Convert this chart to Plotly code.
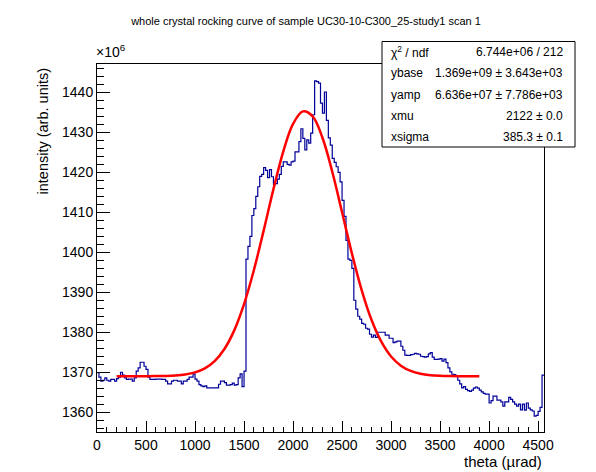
import numpy as np
import plotly.graph_objects as go

# histogram: 228 bins of 20 urad, 0 .. 4560 (intensity in units of 1e6)
bin_width = 20
counts = [
    1369.9, 1368.8, 1367.8, 1368.0, 1368.6, 1368.0, 1367.8, 1368.2, 1368.2, 1367.8,
    1368.4, 1368.8, 1370.0, 1369.3, 1368.6, 1368.2, 1368.3, 1368.3, 1367.8, 1368.6,
    1370.3, 1371.1, 1372.5, 1372.5, 1371.5,
    1370.7, 1368.8, 1368.2, 1368.2, 1368.2, 1368.3, 1368.3, 1368.3, 1368.2, 1368.2,
    1367.8, 1367.1, 1367.1, 1367.8, 1368.0, 1368.0, 1367.8, 1367.8, 1367.1, 1367.8,
    1367.8, 1368.2, 1368.8, 1368.8, 1369.6,
    1368.3, 1367.8, 1366.9, 1366.6, 1366.4, 1366.6, 1366.1, 1366.1, 1366.1, 1366.1,
    1366.1, 1366.1, 1367.0, 1367.8, 1367.8, 1367.4, 1366.8, 1366.8, 1366.9, 1367.3,
    1366.8, 1366.9, 1368.6, 1369.6, 1366.4,
    1370.3, 1398.3, 1401.5, 1404.0, 1409.2, 1410.9, 1414.0, 1416.4, 1419.0, 1419.5,
    1421.2, 1420.5, 1418.7, 1420.7, 1418.9, 1416.9, 1417.2, 1418.3, 1419.5, 1421.5,
    1422.6, 1422.6, 1422.0, 1421.8, 1422.6,
    1422.8, 1425.1, 1425.1, 1427.7, 1430.9, 1428.5, 1425.6, 1428.1, 1427.3, 1429.8,
    1434.4, 1442.9, 1442.7, 1442.3, 1437.3, 1434.8, 1440.1, 1433.0, 1428.6, 1426.8,
    1423.5, 1422.5, 1421.4, 1420.0, 1417.6,
    1413.0, 1409.0, 1403.0, 1398.3, 1398.0, 1396.0, 1388.0, 1385.8, 1384.0, 1383.3,
    1382.2, 1382.0, 1381.0, 1380.8, 1379.5, 1378.8, 1379.3, 1378.7, 1380.0, 1380.0,
    1380.0, 1380.0, 1379.3, 1379.3, 1378.5,
    1378.5, 1377.4, 1377.6, 1377.8, 1377.8, 1376.5, 1375.5, 1374.3, 1374.2, 1374.2,
    1374.4, 1374.5, 1374.7, 1374.6, 1374.5, 1374.0, 1373.9, 1373.8, 1373.9, 1374.6,
    1374.9, 1373.8, 1373.2, 1373.2, 1373.3,
    1373.4, 1372.8, 1373.3, 1372.4, 1371.1, 1370.1, 1369.5, 1369.4, 1369.0, 1368.0,
    1367.1, 1366.1, 1366.4, 1365.7, 1365.4, 1365.2, 1365.5, 1366.0, 1366.3, 1366.0,
    1365.5, 1365.1, 1364.7, 1364.5, 1364.5,
    1362.3, 1362.9, 1364.0, 1364.0, 1363.0, 1363.0, 1362.6, 1361.5, 1362.6, 1362.6,
    1363.7, 1363.2, 1362.6, 1362.0, 1361.5, 1362.0, 1360.6, 1362.0, 1360.5, 1362.3,
    1361.0, 1360.6, 1360.3, 1359.0, 1359.2, 1360.2, 1361.2, 1369.3,
]

# fitted gaussian as drawn
fit_theta = [200, 300, 400, 500, 600, 700, 800, 900, 1000, 1100, 1200, 1300,
             1400, 1500, 1600, 1700, 1800, 1900, 2000, 2100, 2200, 2300, 2400,
             2500, 2600, 2700, 2800, 2900, 3000, 3100, 3200, 3300, 3400, 3500,
             3600, 3700, 3800, 3900]
fit_vals = [1369.00, 1369.00, 1369.00, 1369.01, 1369.03, 1369.07, 1369.18,
            1369.44, 1369.96, 1370.97, 1372.79, 1375.82, 1380.47, 1387.03,
            1395.50, 1405.43, 1415.80, 1425.21, 1432.11, 1435.25, 1434.01,
            1428.64, 1420.15, 1410.01, 1399.74, 1390.54, 1383.11, 1377.64,
            1373.94, 1371.65, 1370.32, 1369.62, 1369.27, 1369.11, 1369.04,
            1369.01, 1369.00, 1369.00]

stat_names = ["χ<sup>2</sup> / ndf", "ybase", "yamp", "xmu", "xsigma"]
stat_values = ["6.744e+06 / 212", "1.369e+09 ± 3.643e+03",
               "6.636e+07 ± 7.786e+03", "2122 ± 0.0", "385.3 ± 0.1"]

title = "whole crystal rocking curve of sample UC30-10-C300_25-study1 scan 1"

W, H = 596, 472
L, R, T, B = 89, 60, 56, 48
FONT = "Liberation Sans, Arial, Helvetica, sans-serif"


def px_x(p):
    return (p - L) / (W - L - R)


def px_y(p):
    return (H - B - p) / (H - T - B)


edges = np.arange(len(counts) + 1) * bin_width
step_y = counts + [counts[-1]]

fig = go.Figure()
fig.add_trace(go.Scatter(x=edges, y=step_y, mode='lines', line_shape='hv',
                         line=dict(color='#000099', width=1.2), hoverinfo='skip'))
fig.add_trace(go.Scatter(x=fit_theta, y=fit_vals, mode='lines', line_shape='spline',
                         line=dict(color='#ff0000', width=2.5), hoverinfo='skip'))

# stats box
fig.add_shape(type='rect', xref='paper', yref='paper',
              x0=px_x(374), x1=px_x(567), y0=px_y(139), y1=px_y(33.5),
              line=dict(color='black', width=1), fillcolor='white', layer='above')
row_y = [44, 65.5, 87, 108, 129]
for name, val, ry in zip(stat_names, stat_values, row_y):
    fig.add_annotation(x=px_x(381), y=px_y(ry), xref='paper', yref='paper',
                       text=name, showarrow=False, xanchor='left', yanchor='middle',
                       font=dict(size=12, color='black', family=FONT))
    fig.add_annotation(x=px_x(557), y=px_y(ry), xref='paper', yref='paper',
                       text=val, showarrow=False, xanchor='right', yanchor='middle',
                       font=dict(size=12, color='black', family=FONT))

# exponent, axis titles (ROOT style, right-aligned)
fig.add_annotation(x=px_x(86), y=px_y(54), xref='paper', yref='paper',
                   text="×10<sup>6</sup>", showarrow=False, xanchor='left', yanchor='bottom',
                   font=dict(size=14, color='black', family=FONT))
fig.add_annotation(x=px_x(34), y=px_y(58), xref='paper', yref='paper',
                   text="intensity (arb. units)", showarrow=False, textangle=-90,
                   xanchor='center', yanchor='top',
                   font=dict(size=14.5, color='black', family=FONT))
fig.add_annotation(x=1.0, y=px_y(453), xref='paper', yref='paper',
                   text="theta (µrad)", showarrow=False, xanchor='right', yanchor='middle',
                   font=dict(size=15, color='black', family=FONT))

fig.update_layout(
    width=W, height=H,
    margin=dict(l=L, r=R, t=T, b=B, pad=0),
    paper_bgcolor='white', plot_bgcolor='white',
    showlegend=False,
    font=dict(family=FONT, color='black', size=14),
    title=dict(text=title, x=0.5, xanchor='center', y=1 - 13 / H, yanchor='middle',
               font=dict(size=11, color='black', family=FONT)),
    xaxis=dict(range=[0, 4560], showgrid=False, zeroline=False,
               showline=True, linecolor='black', linewidth=1, mirror=True,
               ticks='inside', ticklen=11, tickcolor='black', dtick=500, tick0=0,
               minor=dict(dtick=100, ticks='inside', ticklen=5.5, tickcolor='black'),
               tickfont=dict(size=14)),
    yaxis=dict(range=[1355.05, 1447.1], showgrid=False, zeroline=False,
               showline=True, linecolor='black', linewidth=1, mirror=True,
               ticks='inside', ticklen=13, tickcolor='black', dtick=10, tick0=1360,
               minor=dict(dtick=2, ticks='inside', ticklen=6.5, tickcolor='black'),
               tickfont=dict(size=14)),
)

fig.write_html("out.html")
